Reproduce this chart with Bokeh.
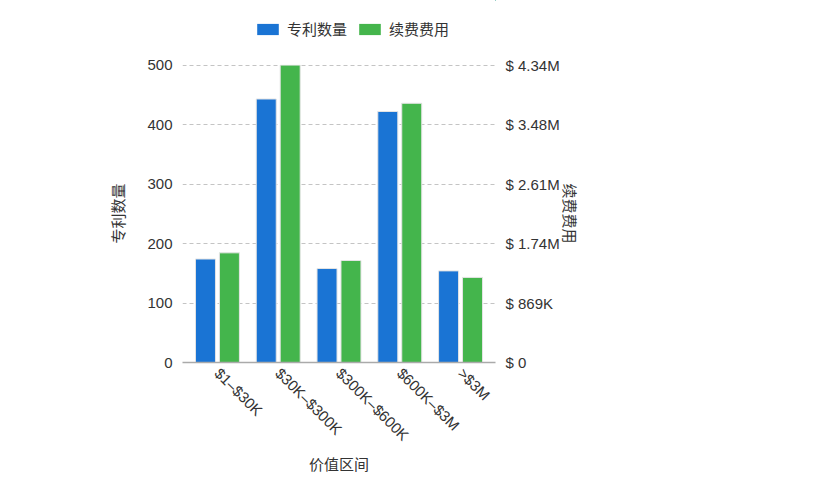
import math
from bokeh.plotting import figure
from bokeh.layouts import column
from bokeh.models import (ColumnDataSource, FactorRange, Range1d, LinearAxis,
                          FixedTicker, Legend, LegendItem)
from bokeh.transform import dodge
from bokeh.embed import file_html
from bokeh.resources import INLINE

categories = ["$1–$30K", "$30K–$300K", "$300K–$600K", "$600K–$3M", ">$3M"]
patents = [174, 443, 158, 422, 154]
fees = [1602000, 4345000, 1490000, 3787000, 1243000]
left_ticks = [0, 100, 200, 300, 400, 500]
right_ticks = [0, 869000, 1738000, 2607000, 3476000, 4345000]
right_tick_labels = ["$ 0", "$ 869K", "$ 1.74M", "$ 2.61M", "$ 3.48M", "$ 4.34M"]
series_names = ["专利数量", "续费费用"]
series_colors = ["#1a74d4", "#44b54c"]
x_title = "价值区间"

CJK = "Noto Sans CJK SC"
NUM = "Liberation Sans"
TXT = "#333333"
W = 797

src = ColumnDataSource(dict(cat=categories, patents=patents, fees=fees))

# ---------- legend strip (proxy bars are shifted far outside the visible area) ----------
lg = figure(width=W, height=50, x_range=FactorRange(factors=categories),
            y_range=Range1d(-2, -1),
            min_border=0, output_backend="svg", toolbar_location=None)
lg.axis.visible = False
lg.grid.visible = False
lg.outline_line_color = None
d1 = lg.vbar(x=dodge("cat", 100, range=lg.x_range), top="patents", bottom="patents",
             width=0.3, source=src, fill_color=series_colors[0], line_alpha=0)
d2 = lg.vbar(x=dodge("cat", 100, range=lg.x_range), top="patents", bottom="patents",
             width=0.3, source=src, fill_color=series_colors[1], line_alpha=0)
legend = Legend(items=[LegendItem(label=series_names[0], renderers=[d1]),
                       LegendItem(label=series_names[1], renderers=[d2])],
                orientation="horizontal", location=(72, 11),
                glyph_width=27, glyph_height=14, label_standoff=6, spacing=9,
                padding=3, margin=0, border_line_color=None,
                background_fill_alpha=0,
                label_text_font=CJK, label_text_font_size="15px",
                label_text_color=TXT, label_height=14)
lg.add_layout(legend, "center")

# ---------- main chart ----------
top_pad = 1.002
p = figure(x_range=FactorRange(factors=categories, range_padding=0.03),
           y_range=Range1d(0, left_ticks[-1] * top_pad),
           frame_width=313, frame_height=298,
           min_border_left=182, min_border_right=302,
           min_border_top=14, min_border_bottom=103,
           output_backend="svg", toolbar_location=None)
p.extra_y_ranges = {"fee": Range1d(0, right_ticks[-1] * top_pad)}
p.outline_line_color = None
p.background_fill_color = "white"
p.border_fill_color = "white"

r1 = p.vbar(x=dodge("cat", -0.197, range=p.x_range), top="patents", width=0.329,
            source=src, fill_color=series_colors[0], line_color="#e4e4e4", line_width=1)
r2 = p.vbar(x=dodge("cat", 0.197, range=p.x_range), top="fees", width=0.329,
            source=src, y_range_name="fee",
            fill_color=series_colors[1], line_color="#e4e4e4", line_width=1)

p.xgrid.grid_line_color = None
p.ygrid.grid_line_color = "#c4c4c4"
p.ygrid.grid_line_dash = "4 3"
p.ygrid.grid_line_width = 1
p.ygrid.ticker = FixedTicker(ticks=left_ticks)

def style_axis(ax):
    ax.axis_line_color = None
    ax.major_tick_line_color = None
    ax.minor_tick_line_color = None
    ax.major_label_text_font = NUM
    ax.major_label_text_font_size = "15px"
    ax.major_label_text_color = TXT
    ax.major_label_standoff = 4
    ax.axis_label_text_font = CJK
    ax.axis_label_text_font_size = "15px"
    ax.axis_label_text_font_style = "normal"
    ax.axis_label_text_color = TXT

ly = p.yaxis[0]
ly.ticker = FixedTicker(ticks=left_ticks)
style_axis(ly)
ly.axis_label = series_names[0]
ly.axis_label_standoff = 16

ry = LinearAxis(y_range_name="fee", ticker=FixedTicker(ticks=right_ticks),
                major_label_overrides={t: s for t, s in zip(right_ticks, right_tick_labels)})
style_axis(ry)
ry.axis_label = series_names[1]
ry.axis_label_standoff = -3
p.add_layout(ry, "right")

xa = p.xaxis[0]
style_axis(xa)
xa.axis_line_color = "#aaaaaa"
xa.axis_line_width = 1.5
xa.major_label_orientation = -math.pi / 4
xa.major_label_standoff = 2
xa.axis_label = x_title
xa.axis_label_standoff = 0

layout = column(lg, p, spacing=0)
open("out.html", "w").write(file_html(layout, INLINE))
